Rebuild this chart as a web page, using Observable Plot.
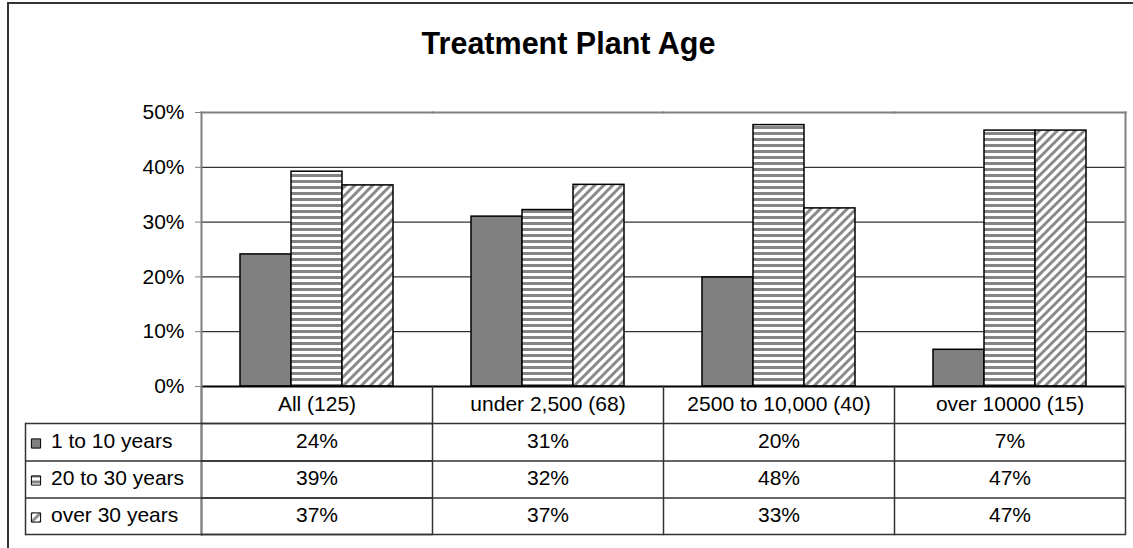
<!DOCTYPE html>
<html><head><meta charset="utf-8">
<script src="https://cdn.jsdelivr.net/npm/d3@7"></script>
<script src="https://cdn.jsdelivr.net/npm/@observablehq/plot@0.6"></script>
<style>
body{margin:0;background:#fff;overflow:hidden}
#wrap{position:relative;width:1133px;height:548px;overflow:hidden;font-family:Arial,"Liberation Sans",sans-serif}
#chart{position:absolute;left:0;top:0}
#title{position:absolute;left:0;width:1137px;top:28px;text-align:center;font-weight:bold;font-size:30.5px;line-height:30.5px;color:#000}
#border{position:absolute;left:7px;top:2px;width:1200px;height:600px;border-left:2px solid #333;border-top:2px solid #333;pointer-events:none}
</style></head><body>
<div id="wrap"><div id="chart"></div><div id="title">Treatment Plant Age</div><div id="border"></div></div>
<script>
// ---- data ----
const categories = ["All (125)", "under 2,500 (68)", "2500 to 10,000 (40)", "over 10000 (15)"];
const seriesNames = ["1 to 10 years", "20 to 30 years", "over 30 years"];
const age1to10 = [24.1, 31.0, 19.9, 6.7];
const age20to30 = [39.2, 32.2, 47.7, 46.7];
const ageOver30 = [36.7, 36.8, 32.5, 46.7];
const yTicks = [0, 10, 20, 30, 40, 50];
const gridTicks = [10, 20, 30, 40];

const seriesValues = [age1to10, age20to30, ageOver30];
const data = categories.flatMap((c, i) => seriesNames.map((s, j) => ({cat: c, series: s, value: seriesValues[j][i]})));

// ---- layout ----
const W = 1133, H = 548, mL = 201, mR = 8, mT = 112, mB = 162;
const plotH = H - mT - mB;
const rowEdges = [37, 74.5, 111.5, 148];
const rowCenters = [24, 61.5, 98.5, 135.5];
const symbolShift = -4.5;
const tableDepth = rowEdges[rowEdges.length - 1];
const legendLeft = 25;
const axisGray = "#808080", tableInk = "#333";

const marks = [
  Plot.gridY(gridTicks, {stroke: "#000", strokeOpacity: 1, strokeWidth: 1}),
  Plot.barY(data, {fx: "cat", x: "series", y: "value", fill: "series", stroke: "#000", strokeWidth: 1.5}),
  Plot.ruleY([0], {stroke: "#000", strokeWidth: 2}),
  // table vertical lines (all facet edges, below the baseline)
  Plot.frame({anchor: "left", insetTop: plotH, insetBottom: -tableDepth, stroke: tableInk, strokeWidth: 1.5}),
  Plot.frame({anchor: "right", fx: categories[categories.length - 1], insetTop: plotH, insetBottom: -tableDepth, stroke: tableInk, strokeWidth: 1.5}),
  // plot area border
  Plot.frame({anchor: "top", stroke: axisGray, strokeWidth: 2}),
  Plot.frame({anchor: "right", fx: categories[categories.length - 1], stroke: axisGray, strokeWidth: 2}),
  Plot.frame({anchor: "left", fx: categories[0], stroke: axisGray, strokeWidth: 2, insetBottom: -tableDepth}),
  // legend column left border
  Plot.frame({anchor: "left", fx: categories[0], insetLeft: -(mL - legendLeft), insetTop: plotH + rowEdges[0], insetBottom: -tableDepth, stroke: tableInk, strokeWidth: 1.5}),
  Plot.axisY(yTicks, {tickFormat: d => `${d}%`, tickSize: 6, tickPadding: 11, stroke: axisGray, fill: "#000", label: null}),
  // category header row
  Plot.text(categories, {fx: d => d, text: d => d, frameAnchor: "bottom", dy: rowCenters[0], fill: "#000"})
];
// table horizontal lines
rowEdges.forEach(e => {
  marks.push(Plot.ruleY([0], {dy: e, stroke: tableInk, strokeWidth: 1.5}));
  marks.push(Plot.ruleY([categories[0]], {fx: d => d, y: () => 0, dy: e, insetLeft: -(mL - legendLeft), stroke: tableInk, strokeWidth: 1.5}));
});
// table value rows + legend cells
seriesNames.forEach((s, j) => {
  marks.push(Plot.text(data.filter(d => d.series === s), {fx: "cat", text: d => `${Math.round(d.value)}%`, frameAnchor: "bottom", dy: rowCenters[j + 1], fill: "#000"}));
  marks.push(Plot.dot([s], {fx: () => categories[0], frameAnchor: "bottom-left", dx: -165.5, dy: rowCenters[j + 1] + symbolShift, symbol: "square", r: 5.2, fill: d => d, stroke: "#000", strokeWidth: 1}));
  marks.push(Plot.text([s], {fx: () => categories[0], text: d => d, frameAnchor: "bottom-left", textAnchor: "start", dx: -150.5, dy: rowCenters[j + 1], fill: "#000"}));
});

const svg = Plot.plot({
  width: W, height: H,
  marginLeft: mL, marginRight: mR, marginTop: mT, marginBottom: mB,
  fx: {domain: categories, padding: 0, axis: null, label: null},
  x: {domain: seriesNames, paddingInner: 0, paddingOuter: 0.735, axis: null},
  y: {domain: [0, 50], axis: null},
  color: {domain: seriesNames, range: ["#808080", "url(#hstripe)", "url(#dstripe)"]},
  style: {fontFamily: "Arial, 'Liberation Sans', sans-serif", fontSize: "21px", background: "white", color: "#000", overflow: "visible"},
  marks
});

const defs = d3.select(svg).insert("defs", ":first-child");
const hs = defs.append("pattern").attr("id", "hstripe").attr("patternUnits", "userSpaceOnUse").attr("width", 8).attr("height", 6);
hs.append("rect").attr("width", 8).attr("height", 6).attr("fill", "#fff");
hs.append("rect").attr("width", 8).attr("height", 3).attr("fill", "#858585");
const ds = defs.append("pattern").attr("id", "dstripe").attr("patternUnits", "userSpaceOnUse").attr("width", 9).attr("height", 9);
ds.append("rect").attr("width", 9).attr("height", 9).attr("fill", "#fff");
ds.append("path").attr("d", "M-2,2L2,-2M0,9L9,0M7,11L11,7").attr("stroke", "#8a8a8a").attr("stroke-width", 3);

document.getElementById("chart").appendChild(svg);
</script>
</body></html>
